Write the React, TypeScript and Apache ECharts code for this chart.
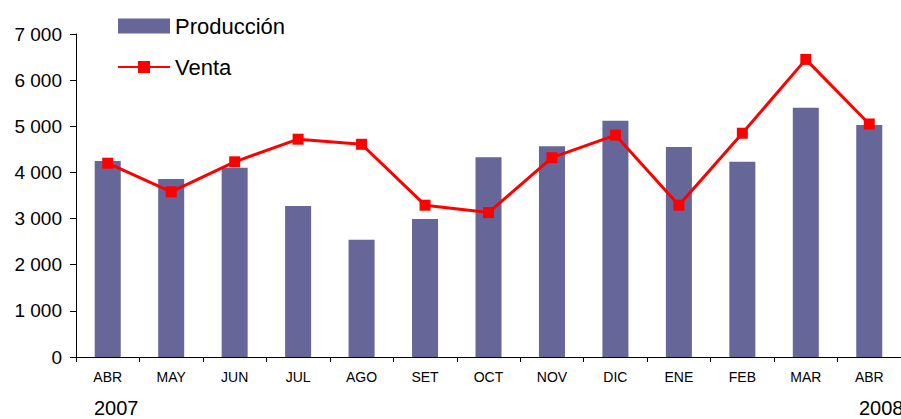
import React, { useEffect, useRef } from "react";
import * as echarts from "echarts";

const categories = ["ABR", "MAY", "JUN", "JUL", "AGO", "SET", "OCT", "NOV", "DIC", "ENE", "FEB", "MAR", "ABR"];
const produccion = [4250, 3860, 4100, 3270, 2540, 2990, 4330, 4570, 5120, 4550, 4230, 5400, 5030];
const venta = [4200, 3580, 4230, 4720, 4610, 3290, 3130, 4320, 4810, 3290, 4850, 6450, 5050];
const yearLabels = ["2007", "2008"];

const FONT = "'Liberation Sans', Arial, sans-serif";

export default function App() {
  const ref = useRef<HTMLDivElement>(null);
  useEffect(() => {
    if (!ref.current) return;
    const chart = echarts.init(ref.current, undefined, { renderer: "svg" });
    chart.setOption({
      animation: false,
      backgroundColor: "#ffffff",
      textStyle: { fontFamily: FONT },
      legend: {
        orient: "vertical",
        left: 117,
        top: 15,
        padding: 0,
        itemWidth: 52,
        itemHeight: 15,
        itemGap: 19,
        textStyle: { fontSize: 22, color: "#000", fontFamily: FONT },
        data: [
          { name: "Producción", icon: "rect" },
          { name: "Venta" },
        ],
      },
      grid: { left: 76, top: 34, height: 323, width: 840, containLabel: false },
      xAxis: {
        type: "category",
        data: categories,
        axisLine: { show: true, lineStyle: { color: "#000", width: 1 } },
        axisTick: { show: true, length: 5, lineStyle: { color: "#000" } },
        axisLabel: { color: "#000", fontSize: 14, margin: 13, fontFamily: FONT, interval: 0 },
        splitLine: { show: false },
      },
      yAxis: {
        type: "value",
        min: 0,
        max: 7000,
        interval: 1000,
        axisLine: { show: true, lineStyle: { color: "#000", width: 1 } },
        axisTick: { show: true, length: 6, lineStyle: { color: "#000" } },
        axisLabel: {
          color: "#000",
          fontSize: 19,
          margin: 14,
          fontFamily: FONT,
          formatter: (v: number) => String(v).replace(/\B(?=(\d{3})+(?!\d))/g, " "),
        },
        splitLine: { show: false },
      },
      graphic: [
        { type: "text", left: 94, top: 398, style: { text: yearLabels[0], fontSize: 20, fill: "#000", fontFamily: FONT } },
        { type: "text", left: 859, top: 398, style: { text: yearLabels[1], fontSize: 20, fill: "#000", fontFamily: FONT } },
      ],
      series: [
        {
          name: "Producción",
          type: "bar",
          data: produccion,
          barWidth: "41%",
          itemStyle: { color: "#666699" },
        },
        {
          name: "Venta",
          type: "line",
          data: venta,
          symbol: "rect",
          symbolSize: 11,
          lineStyle: { color: "#ff0000", width: 3 },
          itemStyle: { color: "#ff0000" },
        },
      ],
    });
    return () => chart.dispose();
  }, []);
  return <div ref={ref} style={{ width: 901, height: 419, position: "absolute", left: 0, top: 0 }} />;
}
